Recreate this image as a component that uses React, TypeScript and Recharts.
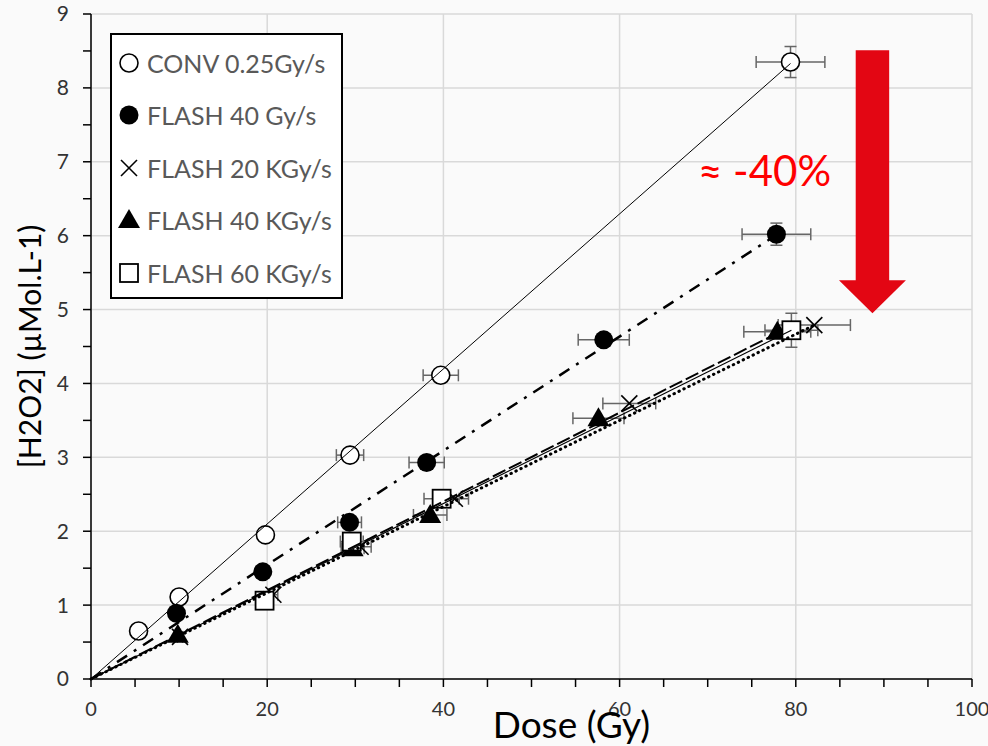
import React from 'react';
import {
  ScatterChart,
  Scatter,
  XAxis,
  YAxis,
  CartesianGrid,
  ErrorBar,
  ReferenceArea,
  Label,
} from 'recharts';

// axis ticks / grid
const xTicks = [0, 5, 10, 15, 20, 25, 30, 35, 40, 45, 50, 55, 60, 65, 70, 75, 80, 85, 90, 95, 100];
const xGrid = [0, 20, 40, 60, 80, 100];
const yTicks = [0, 0.5, 1, 1.5, 2, 2.5, 3, 3.5, 4, 4.5, 5, 5.5, 6, 6.5, 7, 7.5, 8, 8.5, 9];
const yGrid = [0, 1, 2, 3, 4, 5, 6, 7, 8, 9];

// CONV 0.25Gy/s
const convDose = [5.4, 10.0, 19.8, 29.4, 39.7, 79.4];
const convH2O2 = [0.65, 1.11, 1.95, 3.03, 4.11, 8.35];
const convDoseErr = [0.4, 0.4, 0.4, 1.55, 2.0, 3.9];
const convH2O2Err = [0, 0, 0, 0, 0, 0.21];
const convTrend = [79.4, 8.33];

// FLASH 40 Gy/s
const f40GyDose = [9.7, 19.5, 29.35, 38.1, 58.2, 77.8];
const f40GyH2O2 = [0.89, 1.45, 2.12, 2.93, 4.59, 6.02];
const f40GyDoseErr = [0.3, 0.3, 1.35, 2.0, 2.9, 3.9];
const f40GyH2O2Err = [0, 0, 0, 0, 0.05, 0.15];
const f40GyTrend = [77.8, 6.01];

// FLASH 20 KGy/s
const f20KDose = [10.1, 20.7, 30.6, 41.3, 61.1, 82.1];
const f20KH2O2 = [0.57, 1.14, 1.79, 2.44, 3.73, 4.79];
const f20KDoseErr = [0.3, 0.5, 1.2, 1.55, 3.0, 4.1];
const f20KH2O2Err = [0, 0, 0, 0, 0, 0];
const f20KTrend = [82.1, 4.79];

// FLASH 40 KGy/s
const f40KDose = [9.85, 29.7, 38.5, 57.6, 77.9];
const f40KH2O2 = [0.6, 1.77, 2.22, 3.53, 4.7];
const f40KDoseErr = [0.3, 1.3, 1.9, 2.9, 3.8];
const f40KH2O2Err = [0, 0, 0, 0, 0];
const f40KTrend = [77.9, 4.68];

// FLASH 60 KGy/s
const f60KDose = [19.7, 29.6, 39.8, 79.5];
const f60KH2O2 = [1.06, 1.86, 2.44, 4.72];
const f60KDoseErr = [0.5, 1.3, 2.0, 3.0];
const f60KH2O2Err = [0, 0, 0, 0.23];
const f60KTrend = [79.5, 4.72];

// arrow annotation extent (data units)
const arrowX = [84.9, 92.5];
const arrowY = [4.95, 8.51];

const toPoints = (xs: number[], ys: number[], ex: number[], ey: number[]) =>
  xs.map((x, i) => ({ x, y: ys[i], ex: ex[i], ey: ey[i] }));

const trendPoints = (end: number[]) => [
  { x: 0, y: 0 },
  { x: end[0], y: end[1] },
];

const OpenCircle = (p: any) => (
  <circle cx={p.cx} cy={p.cy} r={9} fill="#fff" stroke="#000" strokeWidth={1.6} />
);
const FilledCircle = (p: any) => <circle cx={p.cx} cy={p.cy} r={9.5} fill="#000" />;
const Cross = (p: any) => (
  <g stroke="#000" strokeWidth={1.6}>
    <line x1={p.cx - 8} y1={p.cy - 8} x2={p.cx + 8} y2={p.cy + 8} />
    <line x1={p.cx - 8} y1={p.cy + 8} x2={p.cx + 8} y2={p.cy - 8} />
  </g>
);
const Triangle = (p: any) => (
  <polygon
    points={`${p.cx},${p.cy - 11} ${p.cx + 11},${p.cy + 8} ${p.cx - 11},${p.cy + 8}`}
    fill="#000"
  />
);
const Square = (p: any) => (
  <rect x={p.cx - 9} y={p.cy - 9} width={18} height={18} fill="#fff" stroke="#000" strokeWidth={1.8} />
);
const NoDot = () => <g />;

const series = [
  {
    name: 'CONV 0.25Gy/s',
    data: toPoints(convDose, convH2O2, convDoseErr, convH2O2Err),
    trend: convTrend,
    shape: OpenCircle,
    line: { stroke: '#000', strokeWidth: 1 },
  },
  {
    name: 'FLASH 40 Gy/s',
    data: toPoints(f40GyDose, f40GyH2O2, f40GyDoseErr, f40GyH2O2Err),
    trend: f40GyTrend,
    shape: FilledCircle,
    line: { stroke: '#000', strokeWidth: 2.5, strokeDasharray: '12 8 3 8' },
  },
  {
    name: 'FLASH 20 KGy/s',
    data: toPoints(f20KDose, f20KH2O2, f20KDoseErr, f20KH2O2Err),
    trend: f20KTrend,
    shape: Cross,
    line: { stroke: '#000', strokeWidth: 3, strokeDasharray: '0.5 5', strokeLinecap: 'round' },
  },
  {
    name: 'FLASH 40 KGy/s',
    data: toPoints(f40KDose, f40KH2O2, f40KDoseErr, f40KH2O2Err),
    trend: f40KTrend,
    shape: Triangle,
    line: { stroke: '#000', strokeWidth: 2, strokeDasharray: '14 4' },
  },
  {
    name: 'FLASH 60 KGy/s',
    data: toPoints(f60KDose, f60KH2O2, f60KDoseErr, f60KH2O2Err),
    trend: f60KTrend,
    shape: Square,
    line: { stroke: '#000', strokeWidth: 1.25 },
  },
];

const Arrow = (p: any) => {
  const { x, y, width: w, height: h } = p;
  const hy = y + h * 0.875;
  const pts = [
    [x + w * 0.25, y],
    [x + w * 0.75, y],
    [x + w * 0.75, hy],
    [x + w, hy],
    [x + w * 0.5, y + h],
    [x, hy],
    [x + w * 0.25, hy],
  ]
    .map((q) => q.join(','))
    .join(' ');
  return <polygon points={pts} fill="#e30613" />;
};

const font = 'Lato, "Open Sans", sans-serif';

const LegendBox = () => (
  <div
    style={{
      position: 'absolute',
      left: 110,
      top: 33,
      width: 229,
      height: 262,
      border: '2px solid #000',
      background: '#fff',
      fontFamily: font,
    }}
  >
    {series.map((s, i) => {
      const Shape = s.shape;
      return (
        <div
          key={s.name}
          style={{ position: 'absolute', left: 0, top: 8 + i * 52.4, height: 40, display: 'flex', alignItems: 'center' }}
        >
          <svg width={35} height={40} style={{ display: 'block' }}>
            <Shape cx={17} cy={20} />
          </svg>
          <span style={{ fontSize: 25, color: '#595959', whiteSpace: 'nowrap' }}>{s.name}</span>
        </div>
      );
    })}
  </div>
);

export default function App() {
  return (
    <div style={{ position: 'absolute', left: 0, top: 0, width: 988, height: 746, background: '#fafafa' }}>
      <ScatterChart width={988} height={746} margin={{ top: 14, right: 16, bottom: 0, left: 31 }}>
        <CartesianGrid
          stroke="#d9d9d9"
          strokeWidth={1.5}
          verticalValues={xGrid}
          horizontalValues={yGrid}
        />
        <XAxis
          type="number"
          dataKey="x"
          domain={[0, 100]}
          ticks={xTicks}
          interval={0}
          height={67}
          tickSize={8}
          tickMargin={15}
          tickFormatter={(v: number) => (v % 20 === 0 ? String(v) : '')}
          tick={{ fontSize: 20, fill: '#333', fontFamily: font }}
          axisLine={{ stroke: '#000', strokeWidth: 1.5 }}
          tickLine={{ stroke: '#000', strokeWidth: 1.5 }}
        >
          <Label
            value="Dose (Gy)"
            position="insideBottom"
            offset={8}
            dx={40}
            fontSize={37}
            fill="#000"
            fontFamily={font}
          />
        </XAxis>
        <YAxis
          type="number"
          dataKey="y"
          domain={[0, 9]}
          ticks={yTicks}
          interval={0}
          width={60}
          tickSize={8}
          tickMargin={14}
          tickFormatter={(v: number) => (Number.isInteger(v) ? String(v) : '')}
          tick={{ fontSize: 21, fill: '#333', fontFamily: font }}
          axisLine={{ stroke: '#000', strokeWidth: 1.5 }}
          tickLine={{ stroke: '#000', strokeWidth: 1.5 }}
        >
          <Label
            content={(props: any) => {
              const vb = props.viewBox || { x: 31, y: 14, width: 60, height: 665 };
              const cx = vb.x - 2;
              const cy = vb.y + vb.height / 2;
              return (
                <text
                  x={cx}
                  y={cy}
                  transform={`rotate(-90, ${cx}, ${cy})`}
                  textAnchor="middle"
                  dominantBaseline="central"
                  fontSize={30}
                  fill="#000"
                  fontFamily={font}
                >
                  [H2O2] (µMol.L-1)
                </text>
              );
            }}
          />
        </YAxis>

        {series.map((s) => (
          <Scatter
            key={s.name}
            name={s.name}
            data={s.data}
            shape={s.shape}
            isAnimationActive={false}
          >
            <ErrorBar dataKey="ex" direction="x" width={6} stroke="#666" strokeWidth={1.5} />
            <ErrorBar dataKey="ey" direction="y" width={6} stroke="#666" strokeWidth={1.5} />
          </Scatter>
        ))}

        {series.map((s) => (
          <Scatter
            key={s.name + '-trend'}
            name={s.name + ' trend'}
            data={trendPoints(s.trend)}
            shape={NoDot}
            line={s.line}
            lineType="joint"
            isAnimationActive={false}
          />
        ))}

        <ReferenceArea
          x1={arrowX[0]}
          x2={arrowX[1]}
          y1={arrowY[0]}
          y2={arrowY[1]}
          shape={Arrow}
        />
      </ScatterChart>
      <LegendBox />
      <div
        style={{
          position: 'absolute',
          left: 698,
          top: 145,
          fontSize: 42,
          color: '#ff0000',
          fontFamily: font,
          whiteSpace: 'nowrap',
        }}
      >
        ≈ -40%
      </div>
    </div>
  );
}
